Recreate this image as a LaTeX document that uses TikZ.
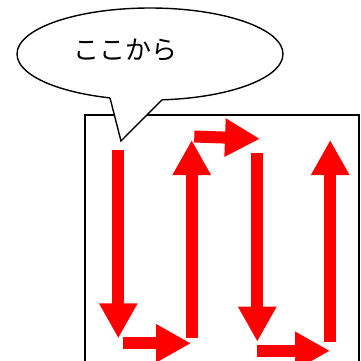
\documentclass[tikz,border=0pt]{standalone}
\usepackage{fontspec}
\newfontfamily\jp{Noto Sans CJK JP}
\usetikzlibrary{arrows.meta,shapes.geometric}
\tikzset{
  blockarrow/.style={draw=red, line width=12pt, line cap=butt,
    -{Triangle[width=36pt,length=35pt,fill=red]}},
  outline/.style={draw=black, line width=1.4pt},
}
\begin{document}
\begin{tikzpicture}[x=1pt,y=-1pt]
\useasboundingbox (0,0) rectangle (361,360);
% frame
\draw[outline] (85,115) rectangle (359,370);
% speech bubble
\node[ellipse, outline, fill=white, minimum width=266pt, minimum height=92pt, inner sep=0pt] (bubble) at (150,54) {};
\coordinate (tl) at (110,97.9);
\coordinate (tip) at (121,141);
\coordinate (tr) at (162,99.8);
\fill[white] (tl) -- (tip) -- (tr) -- (162,95) -- (110,93) -- cycle;
\draw[outline, line join=miter] (tl) -- (tip) -- (tr);
\node[font=\jp\fontsize{26}{30}\selectfont, inner sep=0pt] (label) at (125,50) {ここから};
% arrows
\coordinate (a1s) at (118.3,150);   \coordinate (a1e) at (118.3,338.3);
\coordinate (a2s) at (123.3,343.3); \coordinate (a2e) at (191,343.3);
\coordinate (a3s) at (191.7,337.7); \coordinate (a3e) at (191.7,140);
\coordinate (a4s) at (194.3,136.5); \coordinate (a4e) at (260,138.8);
\coordinate (a5s) at (257.3,153.3); \coordinate (a5e) at (257.3,341.7);
\coordinate (a6s) at (257.3,350.8); \coordinate (a6e) at (330,350.8);
\coordinate (a7s) at (330.2,342.3); \coordinate (a7e) at (330.2,140);
\draw[blockarrow] (a1s) -- (a1e);
\draw[blockarrow] (a2s) -- (a2e);
\draw[blockarrow] (a3s) -- (a3e);
\draw[blockarrow] (a4s) -- (a4e);
\draw[blockarrow] (a5s) -- (a5e);
\draw[blockarrow] (a6s) -- (a6e);
\draw[blockarrow] (a7s) -- (a7e);
\end{tikzpicture}
\end{document}
